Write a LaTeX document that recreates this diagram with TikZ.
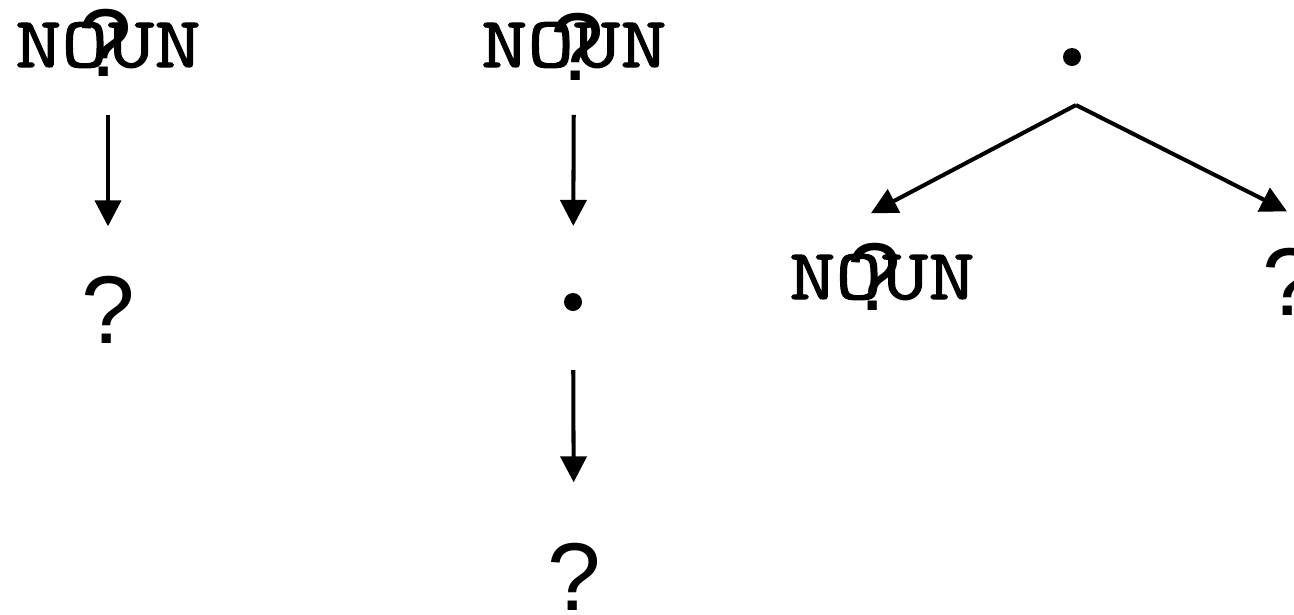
\documentclass[tikz,border=0pt]{standalone}
\usepackage{fontspec}
\setmainfont{Liberation Sans}
\newfontfamily\nounfont[FakeStretch=1.25,FakeBold=1.6]{Latin Modern Mono}
\usetikzlibrary{arrows.meta}
\usetikzlibrary{calc}

\begin{document}
\begin{tikzpicture}[x=0.01cm,y=-0.01cm,->,>={Triangle[width=0.26cm,length=0.26cm]},line width=1.15pt,noun node/.style={inner sep=0pt,font=\nounfont\fontsize{20.5}{22}\selectfont},hole node/.style={inner sep=0pt,font=\fontsize{27.4}{30}\selectfont},dot node/.style={circle,fill,inner sep=0pt,minimum size=0.18cm}]
				\useasboundingbox (0,0) rectangle (1294,614);
				
				\node[noun node] (N1) at (108,45) {NOUN};
				\node[hole node] (Q1) at (105,43) {?};
				\node[hole node] (R1) at (108,310) {?};
				
				\node[noun node] (N2) at (574,45) {NOUN};
				\node[hole node] (Q2) at (577,47) {?};
				\node[dot node] (D2) at (573,302) {};
				\node[hole node] (R2) at (574,577) {?};
				
				\node[dot node] (D3) at (1072,57) {};
				\node[noun node] (N3) at (882,277) {NOUN};
				\node[hole node] (Q3) at (874,277) {?};
				\node[hole node] (R3) at (1289,282) {?};
				
				\coordinate (fork) at ($(D3.south)+(4,37)$);
				\coordinate (tipL) at ($(N3.north)+(-11,-39)$);
				\coordinate (tipR) at ($(R3.north)+(-2,-35)$);
				
				\path
				(N1) edge[shorten <=0.45cm,shorten >=0.48cm] (R1)
				(N2) edge[shorten <=0.45cm,shorten >=0.65cm] (D2)
				(D2) edge[shorten <=0.57cm,shorten >=0.59cm] (R2)
				(fork) edge (tipL)
				(fork) edge (tipR);
				
\end{tikzpicture}
\end{document}
